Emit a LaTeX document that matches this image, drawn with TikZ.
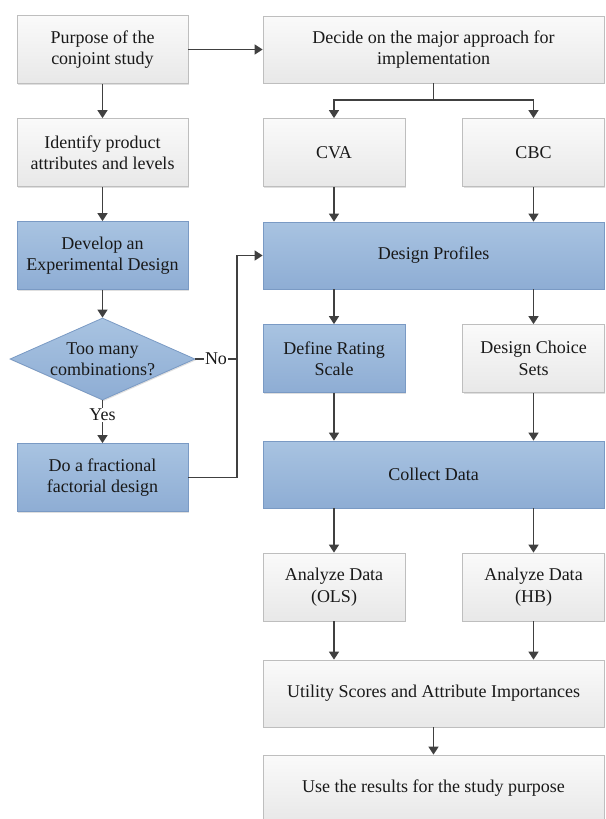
\documentclass[tikz,border=0pt]{standalone}
\usepackage{fontspec}
\setmainfont{Liberation Serif}
\usetikzlibrary{shapes.geometric,arrows.meta,shadows}
\definecolor{grayTop}{RGB}{250,250,250}
\definecolor{grayBot}{RGB}{232,232,232}
\definecolor{grayLine}{RGB}{190,190,190}
\definecolor{blueTop}{RGB}{168,195,225}
\definecolor{blueBot}{RGB}{142,173,212}
\definecolor{blueLine}{RGB}{122,154,196}
\definecolor{ink}{RGB}{25,25,25}
\definecolor{wire}{RGB}{64,64,64}
\tikzset{
  x=1pt, y=-1pt,
  every node/.style={font=\fontsize{18}{21.5}\selectfont, text=ink},
  box/.style={rectangle, align=center, inner sep=2pt, line width=0.8pt,
    drop shadow={shadow xshift=1.2pt, shadow yshift=-1.2pt, opacity=0.25}},
  graybox/.style={box, draw=grayLine, top color=grayTop, bottom color=grayBot},
  bluebox/.style={box, draw=blueLine, top color=blueTop, bottom color=blueBot},
  leftbox/.style={minimum width=171pt, minimum height=68pt},
  halfbox/.style={minimum width=142pt, minimum height=68pt},
  widebox/.style={minimum width=341pt, minimum height=67pt},
  wireline/.style={draw=wire, line width=1.7pt},
  arr/.style={wireline, -{Triangle[length=8pt,width=10pt]}},
  lbl/.style={inner sep=1pt, fill=white}
}
\begin{document}
\begin{tikzpicture}
\useasboundingbox (0,0) rectangle (605,819);
\clip (0,0) rectangle (605,819);

% left column
\node[graybox, leftbox] (purpose) at (102.5,49.5) {Purpose of the\\conjoint study};
\node[graybox, leftbox] (identify) at (102.5,152.5) {Identify product\\attributes and levels};
\node[bluebox, leftbox] (develop) at (102.5,255.5) {Develop an\\Experimental Design};
\node[bluebox, shape=diamond, inner sep=0pt, minimum width=185pt, minimum height=82pt] (combi) at (102.5,359) {};
\node[align=center] (combitext) at (combi.center) {Too many\\combinations?};
\node[bluebox, leftbox] (fraction) at (102.5,477.5) {Do a fractional\\factorial design};

% right column
\node[graybox, widebox] (decide) at (433.5,49.5) {Decide on the major approach for\\implementation};
\node[graybox, halfbox] (cva) at (334,152.5) {CVA};
\node[graybox, halfbox] (cbc) at (533.5,152.5) {CBC};
\node[bluebox, widebox] (profiles) at (433.5,255.5) {Design Profiles};
\node[bluebox, halfbox] (rating) at (334,358.5) {Define Rating\\Scale};
\node[graybox, halfbox] (choice) at (533.5,358.5) {Design Choice\\Sets};
\node[bluebox, widebox] (collect) at (433.5,474.5) {Collect Data};
\node[graybox, halfbox] (ols) at (334,587) {Analyze Data\\(OLS)};
\node[graybox, halfbox] (hb) at (533.5,587) {Analyze Data\\(HB)};
\node[graybox, widebox] (utility) at (433.5,693.5) {Utility Scores and Attribute Importances};
\node[graybox, widebox] (use) at (433.5,788.5) {Use the results for the study purpose};

% labels on the decision
\node[lbl] (yes) at (102.5,415) {Yes};
\node[lbl] (no) at (216,359) {No};

% junction points
\coordinate (split) at (433.5,100);
\coordinate (jlow) at (237,477.5);
\coordinate (jtop) at (237,255.5);

% connectors, left column
\draw[arr] (purpose) -- (decide);
\draw[arr] (purpose) -- (identify);
\draw[arr] (identify) -- (develop);
\draw[arr] (develop.south) -- (combi.north);
\draw[wireline] (combi.south) -- (yes.north);
\draw[arr] (yes.south) -- (fraction.north);
\draw[wireline] (combi.east) -- (no.west);
\draw[wireline] (no.east) -- (no.east -| jlow);
\draw[arr] (fraction.east) -- (jlow) -- (jtop) -- (profiles.west);

% connectors, right column
\draw[wireline] (decide.south) -- (split);
\draw[arr] (split) -| (cva.north);
\draw[arr] (split) -| (cbc.north);
\draw[arr] (cva.south) -- (cva.south |- profiles.north);
\draw[arr] (cbc.south) -- (cbc.south |- profiles.north);
\draw[arr] (rating.north |- profiles.south) -- (rating.north);
\draw[arr] (choice.north |- profiles.south) -- (choice.north);
\draw[arr] (rating.south) -- (rating.south |- collect.north);
\draw[arr] (choice.south) -- (choice.south |- collect.north);
\draw[arr] (ols.north |- collect.south) -- (ols.north);
\draw[arr] (hb.north |- collect.south) -- (hb.north);
\draw[arr] (ols.south) -- (ols.south |- utility.north);
\draw[arr] (hb.south) -- (hb.south |- utility.north);
\draw[arr] (utility) -- (use);
\end{tikzpicture}
\end{document}
